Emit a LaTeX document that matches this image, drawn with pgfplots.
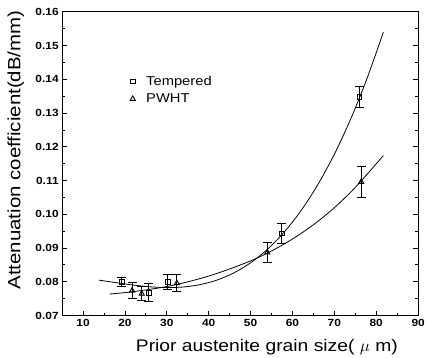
\documentclass[border=0pt]{standalone}
\usepackage{fontspec}
\setmainfont{Liberation Sans}[FakeStretch=1.15]
\usepackage{pgfplots}
\pgfplotsset{compat=1.18}
\pgfplotstableread{
x y e
19.2 0.0800 0.0013
25.7 0.0768 0.0026
30.2 0.0800 0.0022
57.4 0.0943 0.0030
76.0 0.1348 0.0030
}\tempered
\pgfplotstableread{
x y e
21.7 0.0774 0.0024
24.0 0.0765 0.0020
32.4 0.0796 0.0025
54.0 0.0887 0.0030
76.4 0.1096 0.0047
}\pwht
\pgfplotstableread{
x y
13.8 0.0805
18 0.07974
22 0.07904
26 0.07852
30 0.07829
34 0.07847
38 0.07918
42 0.08053
46 0.08264
50 0.08563
54 0.08961
58 0.09470
62 0.10102
66 0.10869
70 0.11781
74 0.12852
78 0.14092
81.7 0.15400
}\tempfit
\pgfplotstableread{
x y
16.4 0.0764
20 0.0768
25 0.0776
30 0.0786
35 0.0800
40 0.0817
45 0.0838
50 0.0862
54 0.0885
58 0.09118
62 0.09429
66 0.09786
70 0.10197
74 0.10669
78 0.11213
81.7 0.11740
}\pwhtfit
\begin{document}
\begin{tikzpicture}
\begin{axis}[
  scale only axis, width=361pt, height=308pt,
  xmin=5, xmax=90, ymin=0.07, ymax=0.16,
  xtick={10,20,30,40,50,60,70,80,90},
  ytick={0.07,0.08,0.09,0.10,0.11,0.12,0.13,0.14,0.15,0.16},
  minor x tick num=1, minor y tick num=1,
  tick align=inside, xtick pos=left, ytick pos=both,
  major tick length=5pt, minor tick length=3pt,
  axis line style={line width=1.2pt},
  every tick/.style={black, line width=0.9pt},
  /pgf/number format/assume math mode=true,
  yticklabel style={/pgf/number format/.cd, fixed, fixed zerofill, precision=2},
  xticklabel style={/pgf/number format/.cd, fixed},
  scaled y ticks=false,
  tick label style={font=\fontsize{10.5}{11}\selectfont\bfseries},
  xlabel={Prior austenite grain size( $\mu$ m)},
  ylabel={Attenuation coefficient(dB/mm)},
  xlabel style={font=\fontsize{17}{19}\selectfont, at={(axis description cs:0.575,-0.104)}, anchor=center},
  ylabel style={font=\fontsize{18}{20}\selectfont, at={(axis description cs:-0.130,0.545)}, anchor=center},
  legend style={at={(axis cs:20.5,0.1422)}, anchor=north west, draw=none, fill=none,
    font=\fontsize{13}{15}\selectfont, row sep=3pt},
  legend cell align=left,
]
\addplot[only marks, mark=square, mark size=2.4pt, black, line width=0.9pt,
  error bars/.cd, y dir=both, y explicit,
  error bar style={line width=0.8pt, black},
  error mark options={rotate=90, mark size=4.5pt, line width=0.8pt, black}]
  table[x=x, y=y, y error=e]{\tempered};
\addlegendentry{\hspace{9pt}Tempered}
\addplot[only marks, mark=triangle, mark size=3pt, black, line width=0.9pt,
  error bars/.cd, y dir=both, y explicit,
  error bar style={line width=0.8pt, black},
  error mark options={rotate=90, mark size=4.5pt, line width=0.8pt, black}]
  table[x=x, y=y, y error=e]{\pwht};
\addlegendentry{\hspace{9pt}PWHT}
\addplot[forget plot, smooth, no marks, black, line width=0.8pt] table[x=x, y=y]{\tempfit};
\addplot[forget plot, smooth, no marks, black, line width=0.8pt] table[x=x, y=y]{\pwhtfit};
\end{axis}
\pgfresetboundingbox
\path[use as bounding box] ([shift={(-63pt,-43pt)}]current axis.south west) rectangle ([shift={(370pt,320pt)}]current axis.south west);
\end{tikzpicture}
\end{document}
